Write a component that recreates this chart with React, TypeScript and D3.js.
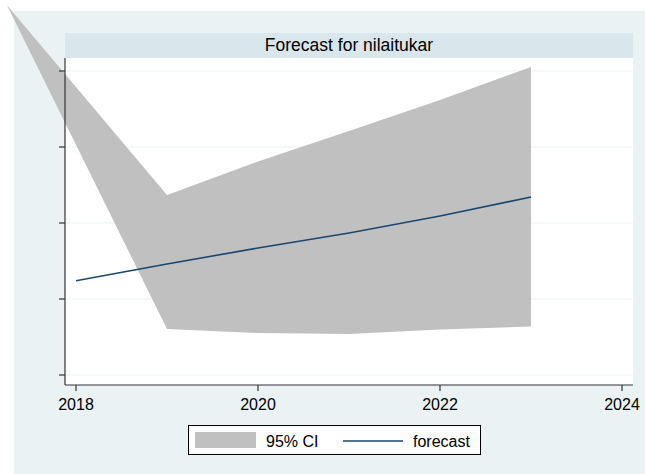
import React from "react";
import * as d3 from "d3";

const years = [2018, 2019, 2020, 2021, 2022, 2023];
const forecast = [1.241, 1.461, 1.671, 1.868, 2.092, 2.342];
const ciYears = [2019, 2020, 2021, 2022, 2023];
const upper = [2.368, 2.81, 3.21, 3.62, 4.053];
const lower = [0.605, 0.553, 0.539, 0.6, 0.638];
// 2018 bound is off-scale; rendered as a clamped apex point
const ciApexYear = 2017.24;
const ciApexValue = 4.87;
const xTicks = [2018, 2020, 2022, 2024];
const yTicks = [0, 1, 2, 3, 4];
const title = "Forecast for nilaitukar";
const legendLabels = ["95% CI", "forecast"];

const W = 645;
const H = 474;
const plotL = 65, plotR = 633, plotT = 58, plotB = 385;
const font = "'Liberation Sans', Arial, sans-serif";

export default function App() {
  const x = d3.scaleLinear().domain([2018, 2024]).range([76, 622]);
  const y = d3.scaleLinear().domain([0, 4]).range([375, 71]);

  type P = { year: number; lo: number; hi: number };
  const band: P[] = [
    { year: ciApexYear, lo: ciApexValue, hi: ciApexValue },
    ...ciYears.map((yr, i) => ({ year: yr, lo: lower[i], hi: upper[i] })),
  ];
  const area = d3
    .area<P>()
    .x((d) => x(d.year))
    .y0((d) => y(d.lo))
    .y1((d) => y(d.hi));
  const line = d3
    .line<number>()
    .x((_, i) => x(years[i]))
    .y((d) => y(d));

  return (
    <svg
      width={W}
      height={H}
      style={{ position: "absolute", left: 0, top: 0 }}
      fontFamily={font}
    >
      <rect x={0} y={0} width={W} height={H} fill="#ffffff" />
      <rect x={14} y={11} width={W - 14} height={H - 11} fill="#EAF2F3" />
      <rect x={plotL} y={33} width={plotR - plotL} height={plotT - 33} fill="#D9E6EB" />
      <text
        x={(plotL + plotR) / 2}
        y={51}
        textAnchor="middle"
        fontSize={17.5}
        fill="#000"
      >
        {title}
      </text>
      <rect x={plotL} y={plotT} width={plotR - plotL} height={plotB - plotT} fill="#ffffff" />
      {yTicks.map((t) => (
        <line
          key={"g" + t}
          x1={plotL}
          x2={plotR}
          y1={y(t)}
          y2={y(t)}
          stroke="#EAF2F3"
          strokeWidth={1.2}
        />
      ))}
      <path d={area(band) || ""} fill="#C0C0C0" />
      <path d={line(forecast) || ""} fill="none" stroke="#1A476F" strokeWidth={1.6} />
      {/* axes */}
      <line x1={plotL} x2={plotL} y1={plotT} y2={plotB} stroke="#333" strokeWidth={1.2} />
      <line x1={plotL} x2={plotR} y1={plotB} y2={plotB} stroke="#333" strokeWidth={1.2} />
      {yTicks.map((t) => (
        <line
          key={"yt" + t}
          x1={plotL - 6}
          x2={plotL}
          y1={y(t)}
          y2={y(t)}
          stroke="#333"
          strokeWidth={1.2}
        />
      ))}
      {xTicks.map((t) => (
        <g key={"xt" + t}>
          <line x1={x(t)} x2={x(t)} y1={plotB} y2={plotB + 6} stroke="#333" strokeWidth={1.2} />
          <text x={x(t)} y={410} textAnchor="middle" fontSize={16} fill="#000">
            {t}
          </text>
        </g>
      ))}
      {/* legend */}
      <rect x={188.5} y={425.5} width={292} height={29} fill="#ffffff" stroke="#000" strokeWidth={1} />
      <rect x={195} y={432} width={61} height={16} fill="#C0C0C0" />
      <text x={266} y={447} fontSize={16} fill="#000">
        {legendLabels[0]}
      </text>
      <line x1={343} x2={403} y1={441} y2={441} stroke="#1A476F" strokeWidth={1.6} />
      <text x={413} y={447} fontSize={16} fill="#000">
        {legendLabels[1]}
      </text>
    </svg>
  );
}
